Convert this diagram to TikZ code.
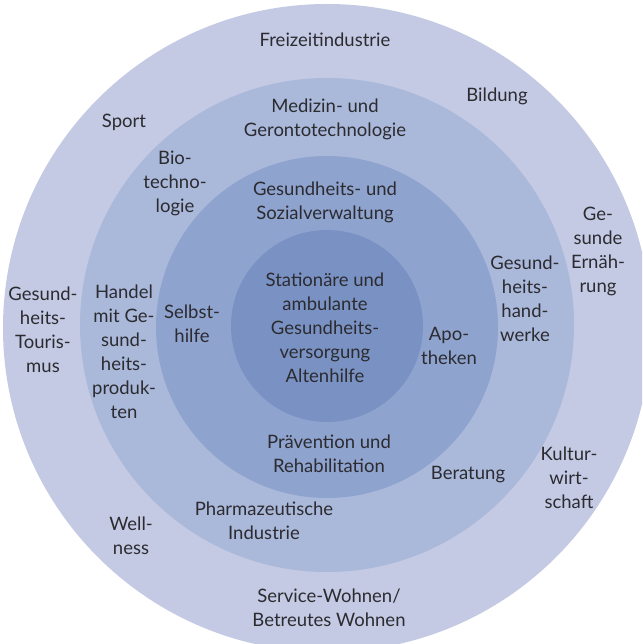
\documentclass[tikz,border=0pt]{standalone}
\usepackage{fontspec}
\setmainfont{Lato}
\usepackage{tikz}
\definecolor{ring1}{HTML}{C4CAE4}
\definecolor{ring2}{HTML}{AAB8DA}
\definecolor{ring3}{HTML}{8FA3CF}
\definecolor{core}{HTML}{7A92C3}
\definecolor{ink}{HTML}{2B2B30}
\tikzset{
  lbl/.style={align=center,text=ink,inner sep=0pt,
    font=\fontsize{18.5pt}{24pt}\selectfont}
}

\begin{document}
\begin{tikzpicture}[x=1pt,y=-1pt]
  \useasboundingbox (0,0) rectangle (642,644);
  \fill[white] (0,0) rectangle (642,644);
  \begin{scope}
    \clip (0,0) rectangle (642,644);
    \fill[ring1] (327,328) circle[radius=324];
    \fill[ring2] (327,325) circle[radius=247];
    \fill[ring3] (327,327) circle[radius=171];
    \fill[core] (327,326) circle[radius=96];
  \end{scope}
  % outer ring
  \node[lbl] (freizeit) at (325,40) {Freizeitindustrie};
  \node[lbl] (bildung) at (497,96) {Bildung};
  \node[lbl] (sport) at (124,122) {Sport};
  \node[lbl] (ernaehrung) at (598,251) {Ge-\\sunde\\Ernäh-\\rung};
  \node[lbl] (tourismus) at (43,330) {Gesund-\\heits-\\Touris-\\mus};
  \node[lbl] (kultur) at (569,478) {Kultur-\\wirt-\\schaft};
  \node[lbl] (wellness) at (131,536) {Well-\\ness};
  \node[lbl] (wohnen) at (329,608) {Service-Wohnen/\\Betreutes Wohnen};
  % second ring
  \node[lbl] (medizin) at (325,119) {Medizin- und\\Gerontotechnologie};
  \node[lbl] (bio) at (175,183) {Bio-\\techno-\\logie};
  \node[lbl] (handwerke) at (525,299) {Gesund-\\heits-\\hand-\\werke};
  \node[lbl] (handel) at (124,352) {Handel\\mit Ge-\\sund-\\heits-\\produk-\\ten};
  \node[lbl] (beratung) at (468,475) {Beratung};
  \node[lbl] (pharma) at (264,521) {Pharmazeutische\\Industrie};
  % third ring
  \node[lbl] (verwaltung) at (325,202) {Gesundheits- und\\Sozialverwaltung};
  \node[lbl] (selbsthilfe) at (192,324) {Selbst-\\hilfe};
  \node[lbl] (apotheken) at (449,346) {Apo-\\theken};
  \node[lbl] (praevention) at (329,454) {Prävention und\\Rehabilitation};
  % core
  \node[lbl] (versorgung) at (325,328) {Stationäre und\\ambulante\\Gesundheits-\\versorgung\\Altenhilfe};
\end{tikzpicture}
\end{document}
